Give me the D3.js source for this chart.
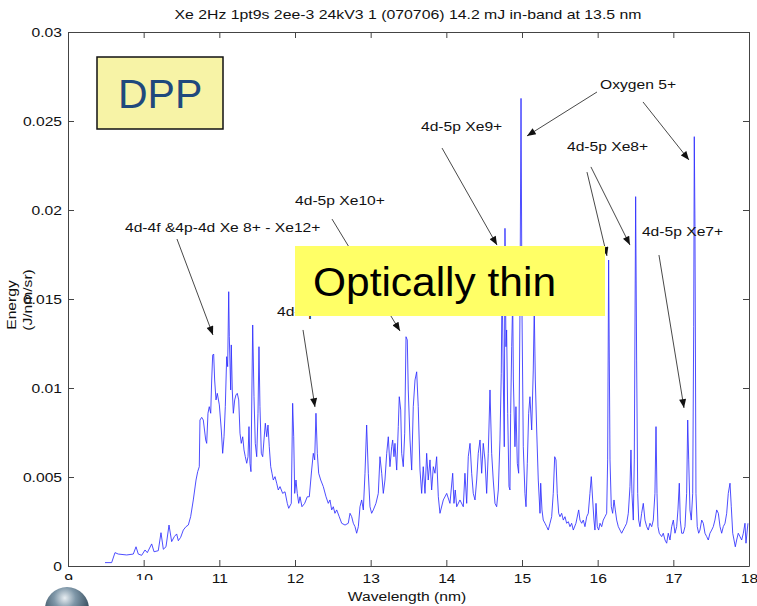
<!DOCTYPE html>
<meta charset="utf-8">
<style>
body { margin: 0; background: #fff; }
svg { display: block; font-family: "Liberation Sans", Arial, sans-serif; }
</style>
<svg width="757" height="606"></svg>
<script src="https://cdn.jsdelivr.net/npm/d3@7"></script>
<script>

var title = "Xe 2Hz 1pt9s 2ee-3 24kV3 1 (070706) 14.2 mJ in-band at 13.5 nm";
var xTicks = [9, 10, 11, 12, 13, 14, 15, 16, 17, 18];
var yTicks = [0, 0.005, 0.01, 0.015, 0.02, 0.025, 0.03];
var yTickLabels = ["0", "0.005", "0.01", "0.015", "0.02", "0.025", "0.03"];

// [wavelength nm, energy J/nm/sr]
var spectrum = [
  [9.489,0.00019],[9.577,0.00019],[9.621,0.00075],[9.665,0.00067],[9.775,0.00062],[9.863,0.00067],[9.899,0.00108],
  [9.929,0.00067],[9.974,0.00060],[10.018,0.00090],[10.048,0.00075],[10.106,0.00124],[10.137,0.00080],[10.193,0.00086],
  [10.229,0.00187],[10.260,0.00094],[10.295,0.00108],[10.335,0.00230],[10.370,0.00137],[10.405,0.00165],[10.436,0.00180],
  [10.458,0.00142],[10.489,0.00161],[10.524,0.00202],[10.559,0.00221],[10.590,0.00230],[10.621,0.00277],[10.656,0.00371],
  [10.692,0.00483],[10.714,0.00530],[10.735,0.00558],[10.744,0.00820],[10.767,0.00835],[10.788,0.00820],[10.820,0.00708],
  [10.833,0.00689],[10.850,0.00858],[10.867,0.00895],[10.886,0.00858],[10.899,0.01045],[10.912,0.01185],[10.925,0.01191],
  [10.938,0.01045],[10.956,0.00933],[10.973,0.00970],[11.000,0.00905],[11.026,0.00764],[11.044,0.00633],[11.062,0.00726],
  [11.079,0.00895],[11.097,0.01176],[11.110,0.01120],[11.124,0.01541],[11.132,0.01288],[11.150,0.00989],[11.158,0.01242],
  [11.171,0.00989],[11.185,0.00858],[11.203,0.00933],[11.220,0.00961],[11.237,0.00970],[11.256,0.00933],[11.273,0.00746],
  [11.290,0.00689],[11.309,0.00726],[11.326,0.00652],[11.343,0.00614],[11.362,0.00577],[11.379,0.00614],[11.392,0.00783],
  [11.405,0.00577],[11.418,0.00530],[11.432,0.01045],[11.441,0.01354],[11.458,0.00951],[11.475,0.00689],[11.494,0.00614],
  [11.511,0.00858],[11.524,0.01232],[11.537,0.00895],[11.555,0.00633],[11.573,0.00614],[11.590,0.00708],[11.608,0.00802],
  [11.626,0.00726],[11.643,0.00792],[11.660,0.00670],[11.679,0.00558],[11.696,0.00521],[11.713,0.00483],[11.736,0.00502],
  [11.758,0.00465],[11.779,0.00427],[11.802,0.00446],[11.837,0.00408],[11.868,0.00417],[11.898,0.00352],[11.917,0.00324],
  [11.951,0.00352],[11.969,0.00914],[11.983,0.00726],[11.996,0.00408],[12.013,0.00483],[12.030,0.00408],[12.049,0.00352],
  [12.066,0.00389],[12.092,0.00333],[12.128,0.00352],[12.162,0.00389],
  [12.189,0.00389],[12.220,0.00539],[12.242,0.00633],[12.260,0.00596],[12.277,0.00858],[12.295,0.00633],[12.313,0.00521],
  [12.340,0.00483],[12.374,0.00446],[12.410,0.00389],[12.440,0.00352],[12.462,0.00371],[12.485,0.00315],[12.506,0.00333],
  [12.528,0.00296],[12.551,0.00315],[12.585,0.00277],[12.617,0.00240],[12.661,0.00230],[12.704,0.00240],[12.727,0.00296],
  [12.749,0.00277],[12.771,0.00240],[12.793,0.00221],[12.815,0.00184],[12.837,0.00221],[12.859,0.00333],[12.881,0.00371],
  [12.903,0.00315],[12.925,0.00521],[12.947,0.00792],[12.969,0.00521],[12.991,0.00333],[13.013,0.00296],[13.035,0.00315],
  [13.070,0.00352],[13.101,0.00408],[13.123,0.00614],[13.146,0.00521],[13.167,0.00408],[13.189,0.00483],[13.212,0.00633],
  [13.233,0.00726],[13.255,0.00558],[13.278,0.00670],[13.291,0.00708],[13.308,0.00614],[13.321,0.00689],[13.344,0.00539],
  [13.365,0.00783],[13.378,0.00951],[13.397,0.00876],[13.410,0.00633],[13.431,0.00558],[13.450,0.00746],[13.467,0.01288],
  [13.484,0.01270],[13.497,0.00989],[13.520,0.00708],[13.542,0.00539],[13.563,0.00895],[13.586,0.01045],[13.608,0.01091],
  [13.629,0.00895],[13.652,0.00539],[13.674,0.00408],[13.695,0.00558],[13.718,0.00408],[13.740,0.00633],[13.761,0.00483],
  [13.784,0.00596],[13.806,0.00427],[13.828,0.00558],[13.850,0.00521],[13.872,0.00614],[13.894,0.00389],[13.916,0.00296],
  [13.960,0.00371],[14.005,0.00408],[14.048,0.00352],[14.084,0.00521],[14.101,0.00352],[14.118,0.00427],[14.137,0.00333],
  [14.180,0.00371],[14.224,0.00333],[14.246,0.00521],[14.269,0.00352],[14.290,0.00614],[14.313,0.00689],[14.335,0.00521],
  [14.356,0.00408],[14.379,0.00371],[14.401,0.00483],[14.422,0.00633],[14.445,0.00708],[14.467,0.00521],[14.488,0.00689],
  [14.511,0.00596],[14.533,0.00408],[14.554,0.00633],[14.577,0.00989],[14.599,0.00633],[14.620,0.00483],[14.643,0.00352],
  [14.665,0.00333],[14.687,0.00427],[14.709,0.00708],[14.726,0.01083],
  [14.737,0.01650],[14.753,0.01045],[14.766,0.00670],[14.775,0.01897],[14.788,0.01232],[14.797,0.01326],[14.811,0.00858],
  [14.828,0.00446],[14.841,0.00427],[14.850,0.00858],[14.864,0.01232],[14.877,0.01500],[14.886,0.01045],[14.907,0.00670],
  [14.920,0.00895],[14.938,0.00577],[14.956,0.00521],[14.973,0.01420],[14.987,0.02627],[15.000,0.01420],[15.017,0.00670],
  [15.039,0.00408],[15.053,0.00333],[15.070,0.00577],[15.088,0.00858],[15.105,0.00951],[15.128,0.00764],[15.149,0.01101],
  [15.162,0.01450],[15.176,0.01045],[15.194,0.00764],[15.215,0.00483],[15.238,0.00296],
  [15.247,0.00465],[15.264,0.00315],[15.281,0.00258],[15.304,0.00240],[15.326,0.00221],[15.347,0.00202],[15.370,0.00240],
  [15.392,0.00277],[15.413,0.00408],[15.432,0.00614],[15.449,0.00596],[15.466,0.00408],[15.485,0.00296],[15.502,0.00277],
  [15.524,0.00296],[15.546,0.00258],[15.568,0.00277],[15.590,0.00240],[15.612,0.00249],[15.634,0.00221],[15.656,0.00240],
  [15.678,0.00202],[15.713,0.00240],[15.749,0.00315],[15.766,0.00258],[15.789,0.00240],[15.810,0.00258],[15.832,0.00221],
  [15.855,0.00277],[15.876,0.00296],[15.898,0.00408],[15.916,0.00502],[15.934,0.00371],[15.951,0.00258],[15.964,0.00202],
  [15.978,0.00352],[15.995,0.00221],[16.013,0.00202],[16.031,0.00240],[16.053,0.00221],[16.074,0.00258],[16.097,0.00277],
  [16.119,0.00296],[16.132,0.00596],[16.145,0.01719],[16.163,0.00596],[16.180,0.00333],[16.198,0.00296],[16.216,0.00371],
  [16.233,0.00315],[16.251,0.00258],[16.273,0.00221],[16.295,0.00202],[16.317,0.00184],[16.338,0.00202],[16.361,0.00221],
  [16.383,0.00240],[16.405,0.00296],[16.427,0.00446],[16.440,0.00652],[16.453,0.00408],[16.471,0.00258],[16.484,0.00596],
  [16.502,0.02075],[16.515,0.01157],[16.529,0.00408],[16.542,0.00258],[16.559,0.00221],[16.581,0.00296],[16.603,0.00352],
  [16.625,0.00258],[16.648,0.00221],[16.669,0.00202],[16.691,0.00240],[16.714,0.00221],[16.735,0.00258],[16.757,0.00408],
  [16.771,0.00783],[16.784,0.00408],[16.797,0.00221],[16.814,0.00184],[16.846,0.00165],[16.867,0.00184],[16.890,0.00146],
  [16.912,0.00128],[16.933,0.00184],[16.956,0.00146],[16.978,0.00221],[17.000,0.00258],[17.022,0.00184],[17.044,0.00221],
  [17.061,0.00315],[17.079,0.00465],[17.092,0.00258],[17.110,0.00184],[17.132,0.00184],[17.154,0.00221],[17.176,0.00408],
  [17.190,0.00820],[17.203,0.00596],[17.220,0.00315],[17.237,0.00258],[17.256,0.00408],[17.269,0.01344],[17.277,0.02412],
  [17.286,0.01906],[17.299,0.00408],[17.316,0.00221],[17.335,0.00184],[17.352,0.00202],[17.375,0.00258],[17.396,0.00240],
  [17.418,0.00184],[17.441,0.00165],[17.462,0.00146],[17.484,0.00184],[17.507,0.00202],[17.528,0.00221],[17.550,0.00258],
  [17.573,0.00315],[17.595,0.00296],[17.617,0.00221],[17.639,0.00184],[17.660,0.00221],[17.683,0.00240],[17.705,0.00296],
  [17.726,0.00408],[17.749,0.00465],[17.766,0.00333],[17.785,0.00184],[17.802,0.00146],[17.819,0.00108],[17.837,0.00146],
  [17.858,0.00184],[17.881,0.00165],[17.903,0.00146],[17.925,0.00184],[17.947,0.00240],[17.960,0.00128],[17.986,0.00240]
];

// annotation text anchors (data units)
var labelText = ["4d-4f &4p-4d Xe 8+ - Xe12+", "4d-5p Xe10+", "4d-5p Xe9+", "Oxygen 5+", "4d-5p Xe8+", "4d-5p Xe7+", "4d-5p Xe11+"];
var labelNm = [9.753, 12.000, 13.665, 16.031, 15.594, 16.585, 11.762];
var labelE = [0.01876, 0.02028, 0.02444, 0.02680, 0.02331, 0.01854, 0.01405];

// arrows: [from nm, from E, to nm, to E]
var arrows = [
  [10.440, 0.01837, 10.916, 0.01298],
  [12.489, 0.01949, 13.388, 0.01320],
  [13.943, 0.02348, 14.670, 0.01803],
  [15.991, 0.02663, 15.066, 0.02416],
  [16.599, 0.02607, 17.207, 0.02281],
  [15.859, 0.02213, 16.123, 0.01742],
  [15.911, 0.02242, 16.427, 0.01803],
  [16.810, 0.01747, 17.141, 0.00888],
  [12.106, 0.01326, 12.264, 0.00893]
];

var svg = d3.select("svg");
var stretch = 1.25;

var x = d3.scaleLinear().domain([9, 18]).range([68, 749]);
var y = d3.scaleLinear().domain([0, 0.03]).range([566, 32]);

function widen(sel, f) {
  sel.each(function() {
    var w = this.getComputedTextLength();
    d3.select(this).attr("textLength", w * f).attr("lengthAdjust", "spacingAndGlyphs");
  });
}

// spectrum
var line = d3.line().x(function(d) { return x(d[0]); }).y(function(d) { return y(d[1]); });
svg.append("path")
    .datum(spectrum)
    .attr("d", line)
    .attr("fill", "none")
    .attr("stroke", "#2f2fff")
    .attr("stroke-opacity", 0.85)
    .attr("stroke-width", 1);

// axes, MATLAB style box with inward ticks
svg.append("g").attr("transform", "translate(0,566)")
    .call(d3.axisBottom(x).tickValues(xTicks).tickSize(-6).tickSizeOuter(0).tickPadding(8).tickFormat(d3.format("d")));
svg.append("g").attr("transform", "translate(68,0)")
    .call(d3.axisLeft(y).tickValues(yTicks).tickSize(-6).tickSizeOuter(0).tickPadding(6)
      .tickFormat(function(d, i) { return yTickLabels[i]; }));
svg.append("g").attr("transform", "translate(0,32)")
    .call(d3.axisTop(x).tickValues(xTicks).tickSize(-6).tickSizeOuter(0).tickFormat(""));
svg.append("g").attr("transform", "translate(749,0)")
    .call(d3.axisRight(y).tickValues(yTicks).tickSize(-6).tickSizeOuter(0).tickFormat(""));

svg.selectAll(".domain, .tick line").attr("stroke", "#444");
svg.selectAll(".tick text").attr("font-family", null).attr("font-size", 12.5).attr("fill", "#111");
widen(svg.selectAll(".tick text"), stretch);

// arrows
var defs = svg.append("defs");
defs.append("marker")
    .attr("id", "head")
    .attr("viewBox", "0 0 10 8")
    .attr("refX", 10).attr("refY", 4)
    .attr("markerUnits", "userSpaceOnUse")
    .attr("markerWidth", 10).attr("markerHeight", 7)
    .attr("orient", "auto")
  .append("path").attr("d", "M0,0L10,4L0,8Z").attr("fill", "#111");

svg.append("g").selectAll("line")
    .data(arrows)
  .enter().append("line")
    .attr("x1", function(d) { return x(d[0]); })
    .attr("y1", function(d) { return y(d[1]); })
    .attr("x2", function(d) { return x(d[2]); })
    .attr("y2", function(d) { return y(d[3]); })
    .attr("stroke", "#333")
    .attr("stroke-width", 0.9)
    .attr("marker-end", "url(#head)");

var notes = svg.append("g").selectAll("text")
    .data(labelText)
  .enter().append("text")
    .attr("x", function(d, i) { return x(labelNm[i]); })
    .attr("y", function(d, i) { return y(labelE[i]); })
    .attr("font-size", 12.5)
    .attr("fill", "#111")
    .text(function(d) { return d; });
widen(notes, stretch);

// overlay boxes from the slide
svg.append("rect").attr("x", 97).attr("y", 57).attr("width", 126).attr("height", 72)
    .attr("fill", "#f7f3a6").attr("stroke", "#111").attr("stroke-width", 1.5);
svg.append("text").attr("x", 118).attr("y", 108).attr("font-size", 41).attr("fill", "#1f497d").text("DPP");

svg.append("rect").attr("x", 295).attr("y", 246).attr("width", 310).attr("height", 70).attr("fill", "#ffff66");
svg.append("text").attr("x", 313).attr("y", 296).attr("font-size", 40).attr("fill", "#000")
    .attr("textLength", 243).attr("lengthAdjust", "spacingAndGlyphs").text("Optically thin");

// title and axis labels
svg.append("text").attr("x", 408).attr("y", 19).attr("text-anchor", "middle")
    .attr("font-size", 13).attr("fill", "#111")
    .attr("textLength", 467).attr("lengthAdjust", "spacingAndGlyphs")
    .text(title);

var xl = svg.append("text").attr("x", 407).attr("y", 601).attr("text-anchor", "middle")
    .attr("font-size", 12.5).attr("fill", "#111").text("Wavelength (nm)");
widen(xl, stretch);

var yl1 = svg.append("text").attr("transform", "translate(16,305) rotate(-90)").attr("text-anchor", "middle")
    .attr("font-size", 12.5).attr("fill", "#111").text("Energy");
var yl2 = svg.append("text").attr("transform", "translate(32,300) rotate(-90)").attr("text-anchor", "middle")
    .attr("font-size", 12.5).attr("fill", "#111").text("(J/nm/sr)");
widen(yl1, stretch);
widen(yl2, stretch);

// white slide area over the lower left corner, with the globe bullet
svg.append("rect").attr("x", 0).attr("y", 580).attr("width", 190).attr("height", 26).attr("fill", "#fff");
var grad = defs.append("radialGradient").attr("id", "globe").attr("cx", "45%").attr("cy", "25%").attr("r", "70%");
grad.append("stop").attr("offset", "0%").attr("stop-color", "#e8eef2");
grad.append("stop").attr("offset", "35%").attr("stop-color", "#7f97a8");
grad.append("stop").attr("offset", "100%").attr("stop-color", "#1e3445");
svg.append("circle").attr("cx", 67).attr("cy", 609).attr("r", 22).attr("fill", "url(#globe)");

</script>
